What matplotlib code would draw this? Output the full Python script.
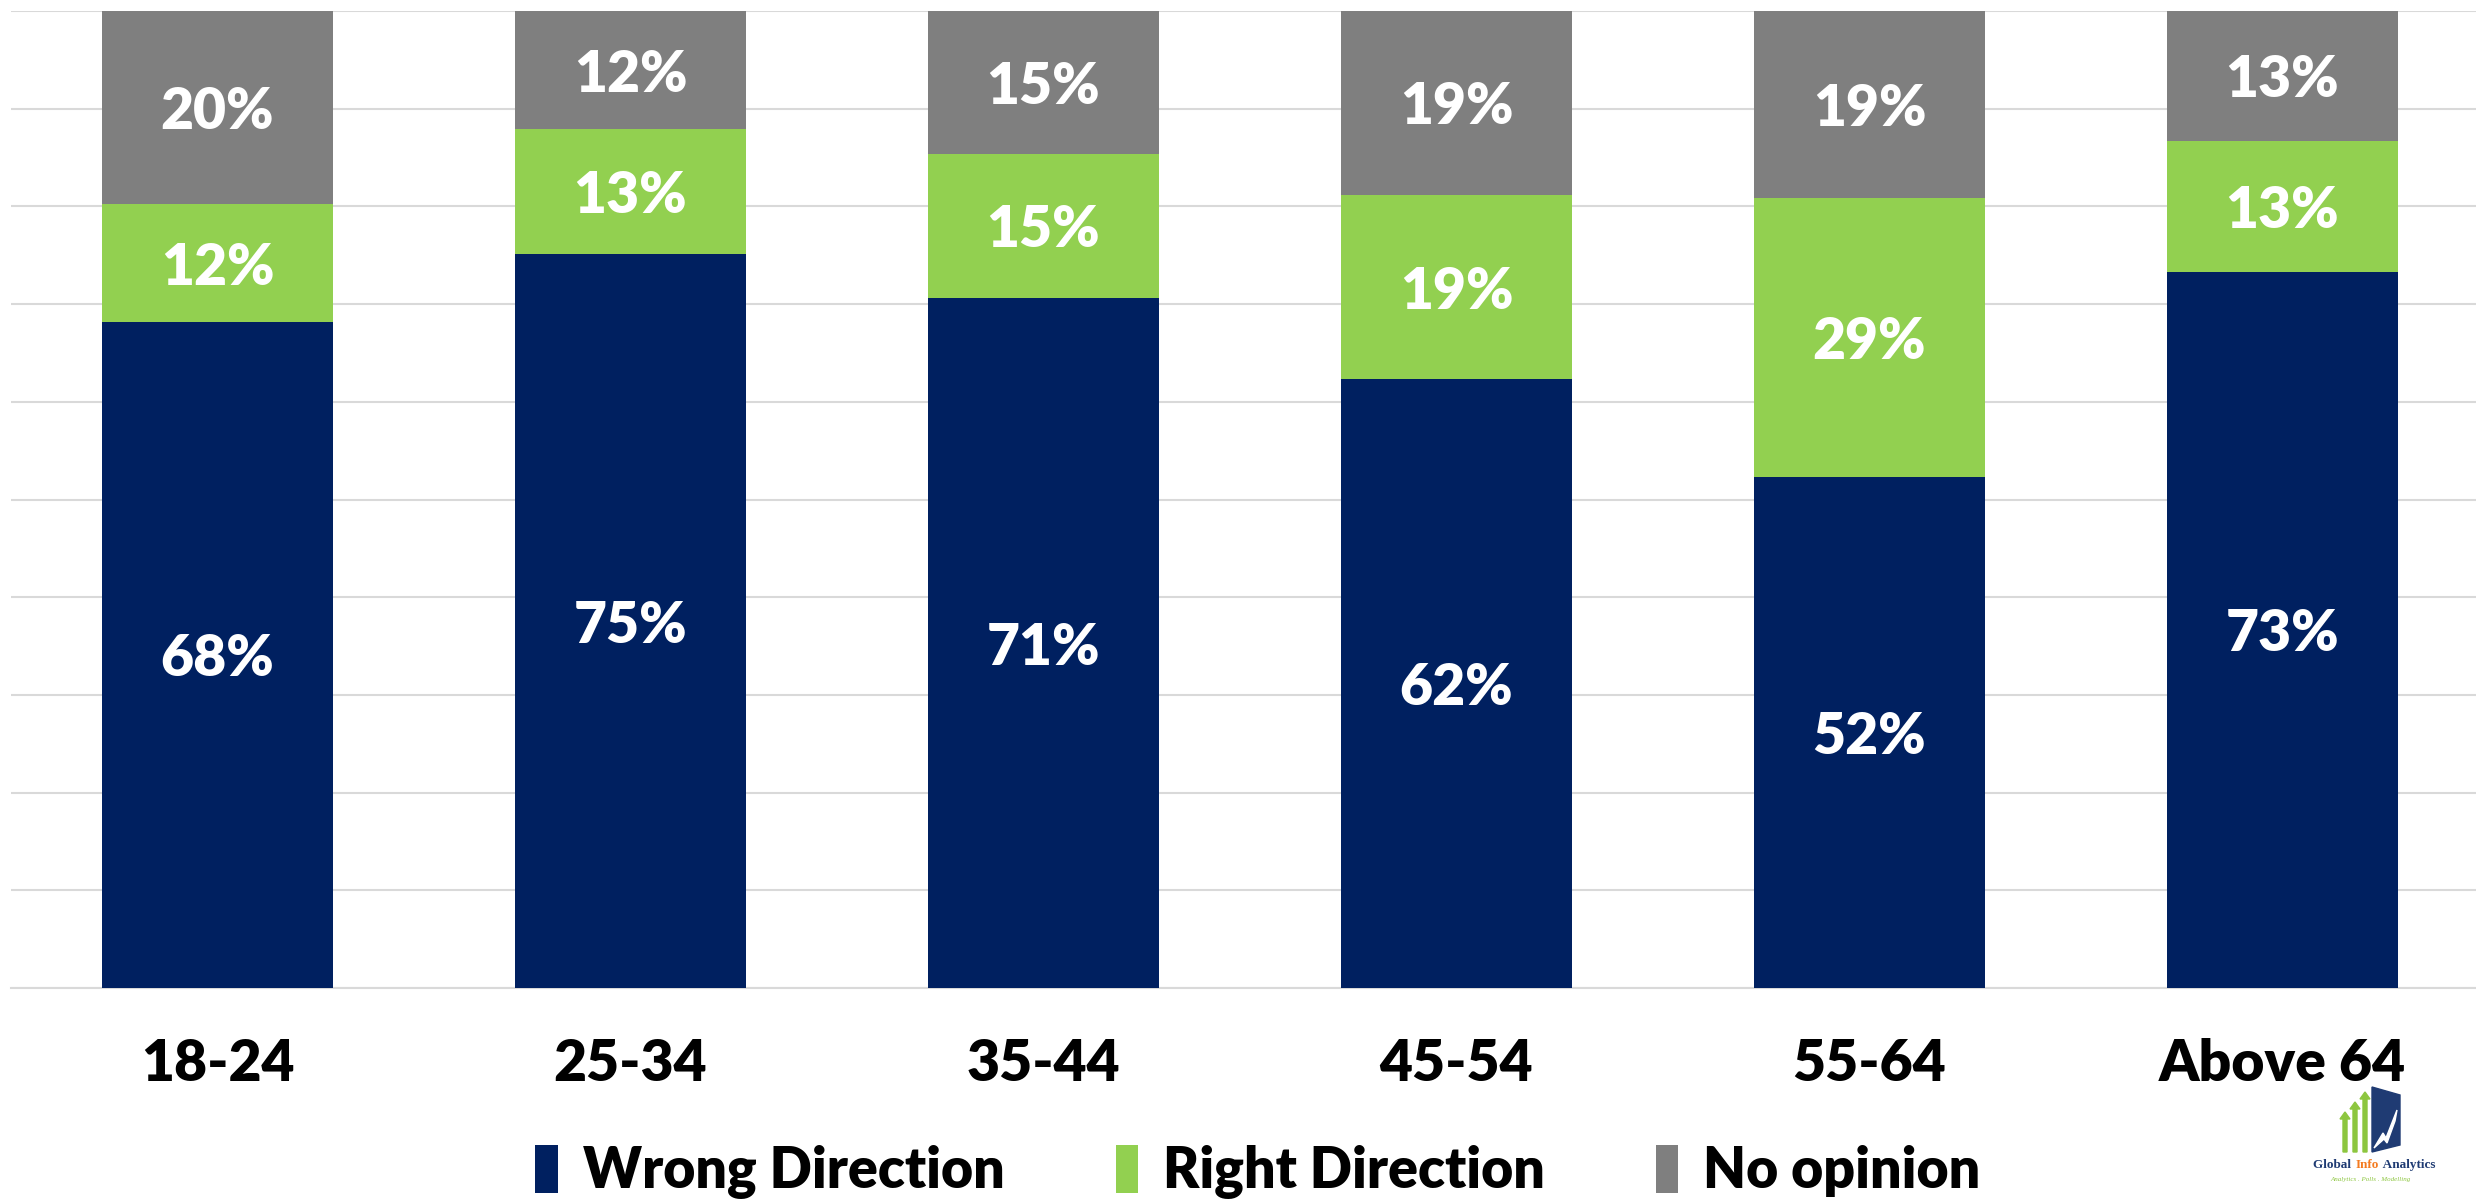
import matplotlib
matplotlib.use("Agg")
import matplotlib.pyplot as plt
from matplotlib.patches import Polygon

categories = ["18-24", "25-34", "35-44", "45-54", "55-64", "Above 64"]
wrong = [68.2, 75.1, 70.6, 62.3, 52.3, 73.3]
right = [12.0, 12.8, 14.8, 18.9, 28.6, 13.4]
no_opinion = [19.8, 12.1, 14.6, 18.8, 19.1, 13.3]
series_names = ["Wrong Direction", "Right Direction", "No opinion"]
colors = ["#002060", "#92D050", "#7F7F7F"]

plt.rcParams['font.family'] = ['Lato', 'DejaVu Sans']

fig = plt.figure(figsize=(24.76, 12.01), dpi=100)
ax = fig.add_axes([11 / 2476, 1 - 988 / 1201, 2478 / 2476, 977 / 1201])

x = list(range(len(categories)))
bottom = [0] * len(categories)
for vals, name, col in zip([wrong, right, no_opinion], series_names, colors):
    ax.bar(x, vals, width=0.56, bottom=bottom, color=col, label=name, zorder=3)
    for i, v in enumerate(vals):
        ax.text(i, bottom[i] + v / 2, f"{round(v):.0f}%", ha='center', va='center_baseline',
                color='white', fontsize=41, fontweight='heavy', zorder=4)
    bottom = [b + v for b, v in zip(bottom, vals)]

ax.set_xlim(-0.5, 5.5)
ax.set_ylim(0, 100)
ax.set_yticks(range(0, 101, 10))
ax.yaxis.grid(True, color='#d9d9d9', linewidth=1.5, zorder=0)
ax.tick_params(axis='y', length=0, labelleft=False)
ax.tick_params(axis='x', length=0, pad=36)
ax.set_xticks(x)
ax.set_xticklabels(categories, fontsize=41, fontweight='heavy')
for s in ['top', 'right', 'left']:
    ax.spines[s].set_visible(False)
ax.spines['bottom'].set_color('#d9d9d9')
ax.spines['bottom'].set_linewidth(1.5)

leg = fig.legend(loc='center', bbox_to_anchor=(0.508, 1 - 1172 / 1201), ncol=3,
                 frameon=False, prop={'size': 40, 'weight': 'heavy'},
                 handlelength=0.4, handleheight=0.95, handletextpad=0.45,
                 columnspacing=2.0)

# logo
W, H = 2476, 1201
def fc(px, py):
    return (px / W, 1 - py / H)

for xa, ytop in [(2345, 1112), (2355, 1102), (2365, 1092)]:
    fig.patches.append(Polygon([fc(xa - 2, 1152), fc(xa + 2, 1152), fc(xa + 2, ytop + 7),
                                fc(xa + 5, ytop + 7), fc(xa, ytop), fc(xa - 5, ytop + 7),
                                fc(xa - 2, ytop + 7)],
                               closed=True, transform=fig.transFigure, color='#8DC63F'))
fig.patches.append(Polygon([fc(2372, 1087), fc(2400, 1095), fc(2400, 1145), fc(2372, 1152)],
                           closed=True, transform=fig.transFigure, color='#1F3B73'))
fig.patches.append(Polygon([fc(2374, 1148), fc(2383, 1133), fc(2386, 1138), fc(2397, 1110),
                            fc(2395, 1121), fc(2387, 1143), fc(2384, 1139)],
                           closed=True, transform=fig.transFigure, color='white'))

fig.canvas.draw()
r = fig.canvas.get_renderer()
xpos = 2313
for part, col in [("Global ", '#1F3B73'), ("Info", '#F47B20'), (" Analytics", '#1F3B73')]:
    t = fig.text(xpos / W, 1 - 1165 / H, part, color=col, fontsize=9.5,
                 fontweight='bold', family='Liberation Serif', ha='left', va='center')
    xpos += t.get_window_extent(r).width + 1
fig.text(2371 / W, 1 - 1179 / H, "Analytics . Polls . Modelling", color='#8DC63F',
         fontsize=5, style='italic', family='Liberation Serif', ha='center', va='center')

fig.savefig("out.png", dpi=100)
